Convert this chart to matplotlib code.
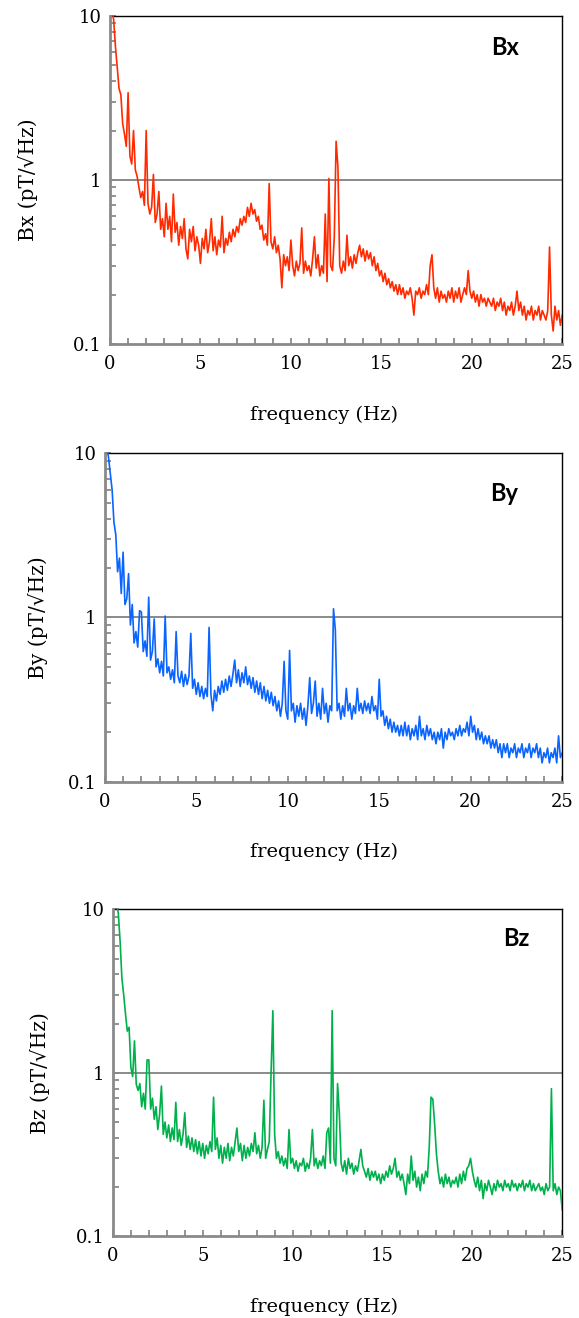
import numpy as np
import matplotlib.pyplot as plt
from matplotlib.ticker import FixedLocator, FuncFormatter, LogLocator, NullFormatter

# frequency grid (Hz), one sample every 0.1 Hz from 0 to 25
freq = np.arange(251) / 10.0

# amplitude spectral density (pT/sqrt(Hz)), one row = 1 Hz
bx = [14, 11, 9.5, 6.5, 4.8, 3.6, 3.3, 2.2, 1.9, 1.6,
      3.4, 1.4, 1.25, 2.0, 1.15, 1.05, 0.9, 0.78, 0.85, 0.7,
      2.0, 0.72, 0.62, 0.68, 1.08, 0.55, 0.62, 0.85, 0.5, 0.58,
      0.45, 0.72, 0.5, 0.6, 0.42, 0.82, 0.48, 0.55, 0.4, 0.52,
      0.44, 0.58, 0.38, 0.33, 0.5, 0.42, 0.52, 0.37, 0.45, 0.4,
      0.31, 0.44, 0.38, 0.5, 0.36, 0.42, 0.58, 0.37, 0.45, 0.35,
      0.43, 0.39, 0.6, 0.36, 0.44, 0.4, 0.48, 0.42, 0.5, 0.45,
      0.52, 0.48, 0.58, 0.53, 0.6, 0.55, 0.68, 0.6, 0.72, 0.62,
      0.66, 0.56, 0.6, 0.5, 0.53, 0.43, 0.47, 0.4, 0.95, 0.42,
      0.38, 0.45, 0.36, 0.4, 0.33, 0.22, 0.35, 0.3, 0.34, 0.28,
      0.43, 0.3, 0.26, 0.32, 0.28, 0.31, 0.51, 0.27, 0.32, 0.28,
      0.3, 0.26, 0.33, 0.45, 0.29, 0.35, 0.26, 0.3, 0.27, 0.62,
      0.24, 1.02, 0.3, 0.28, 0.45, 1.72, 1.2, 0.3, 0.27, 0.32,
      0.28, 0.46, 0.3, 0.34, 0.29, 0.35, 0.31, 0.36, 0.4, 0.34,
      0.38, 0.32, 0.37, 0.33, 0.36, 0.3, 0.34, 0.28, 0.31, 0.26,
      0.28, 0.24, 0.27, 0.23, 0.25, 0.22, 0.24, 0.21, 0.23, 0.2,
      0.23, 0.2, 0.22, 0.19, 0.21, 0.2, 0.22, 0.19, 0.15, 0.21,
      0.2, 0.22, 0.19, 0.21, 0.2, 0.23, 0.2, 0.3, 0.35, 0.22,
      0.19, 0.22, 0.18, 0.21, 0.19, 0.2, 0.18, 0.21, 0.19, 0.22,
      0.18, 0.21, 0.19, 0.22, 0.18, 0.2, 0.22, 0.2, 0.28, 0.21,
      0.19, 0.21, 0.18, 0.2, 0.17, 0.2, 0.18, 0.19, 0.17, 0.19,
      0.18, 0.17, 0.19, 0.16, 0.18, 0.17, 0.19, 0.16, 0.18, 0.15,
      0.17, 0.16, 0.18, 0.15, 0.17, 0.21, 0.16, 0.18, 0.15, 0.17,
      0.14, 0.16, 0.15, 0.17, 0.14, 0.16, 0.15, 0.17, 0.14, 0.16,
      0.15, 0.14, 0.16, 0.39, 0.15, 0.12, 0.17, 0.14, 0.16, 0.13,
      0.15]

by = [13, 11, 9.5, 7.5, 6.0, 3.8, 3.2, 1.9, 2.3, 1.4,
      2.5, 1.2, 1.3, 1.85, 0.9, 1.2, 0.7, 0.82, 0.66, 1.1,
      1.08, 0.62, 0.72, 0.58, 1.33, 0.55, 0.62, 0.98, 0.5, 0.56,
      0.46, 0.54, 0.44, 1.02, 0.46, 0.5, 0.42, 0.48, 0.4, 0.82,
      0.44, 0.4, 0.47, 0.38, 0.45, 0.39, 0.44, 0.8, 0.37, 0.42,
      0.34, 0.4, 0.33, 0.38, 0.32, 0.37, 0.33, 0.87, 0.34, 0.27,
      0.36, 0.31, 0.38, 0.34, 0.41, 0.35, 0.42, 0.36, 0.44, 0.38,
      0.45, 0.55, 0.4, 0.48, 0.38, 0.46, 0.4, 0.5, 0.39, 0.44,
      0.37, 0.43, 0.35, 0.41, 0.34, 0.4, 0.32, 0.38, 0.31, 0.36,
      0.3, 0.35, 0.29, 0.33, 0.27, 0.31, 0.25, 0.3, 0.54, 0.27,
      0.24, 0.63, 0.27, 0.3, 0.23, 0.29, 0.25, 0.3, 0.24, 0.28,
      0.22, 0.29, 0.43, 0.26, 0.3, 0.41, 0.25, 0.3, 0.24, 0.37,
      0.26, 0.3, 0.23, 0.29, 0.27, 1.13, 0.84, 0.27, 0.3, 0.24,
      0.29, 0.25, 0.37, 0.27, 0.3, 0.24, 0.29, 0.26, 0.37, 0.27,
      0.3, 0.26, 0.31, 0.27, 0.3, 0.26, 0.33, 0.27, 0.29, 0.24,
      0.42, 0.25, 0.27, 0.22, 0.25, 0.21, 0.24, 0.2, 0.23, 0.2,
      0.22, 0.19, 0.22, 0.19, 0.23, 0.19, 0.22, 0.18, 0.21, 0.19,
      0.22, 0.18, 0.25, 0.19, 0.21, 0.18, 0.22, 0.19, 0.21, 0.18,
      0.2, 0.17, 0.2, 0.18, 0.21, 0.16, 0.2, 0.18, 0.21, 0.19,
      0.2, 0.18, 0.21, 0.19, 0.22, 0.19, 0.21, 0.2, 0.23, 0.19,
      0.25, 0.2, 0.22, 0.18, 0.21, 0.18, 0.2, 0.17, 0.19, 0.17,
      0.19, 0.16, 0.18, 0.16, 0.18, 0.15, 0.17, 0.14, 0.17, 0.15,
      0.17, 0.14, 0.16, 0.15, 0.17, 0.14, 0.16, 0.15, 0.17, 0.14,
      0.16, 0.15, 0.17, 0.14, 0.16, 0.15, 0.17, 0.14, 0.16, 0.13,
      0.15, 0.14, 0.16, 0.13, 0.15, 0.14, 0.16, 0.13, 0.19, 0.14,
      0.15]

bz = [14, 12, 11, 9.5, 6.4, 3.8, 3.0, 2.3, 1.8, 1.9,
      1.08, 0.95, 1.57, 0.85, 0.78, 0.86, 0.62, 0.75, 0.6, 1.2,
      1.2, 0.6, 0.7, 0.52, 0.62, 0.45, 0.56, 0.83, 0.42, 0.5,
      0.4, 0.48, 0.38, 0.46, 0.39, 0.66, 0.38, 0.45, 0.36, 0.42,
      0.57, 0.35, 0.41, 0.34, 0.4, 0.33, 0.39, 0.32, 0.38, 0.31,
      0.37, 0.3, 0.36, 0.32, 0.38, 0.33, 0.71, 0.34, 0.4, 0.3,
      0.36, 0.28, 0.35, 0.3, 0.37, 0.29, 0.35, 0.31, 0.38, 0.46,
      0.33, 0.37, 0.29, 0.36, 0.3, 0.35, 0.31, 0.37, 0.33, 0.43,
      0.32, 0.36, 0.3, 0.35, 0.68, 0.3, 0.34, 0.38, 1.0, 2.4,
      0.42, 0.3, 0.33, 0.28, 0.31, 0.27, 0.3, 0.26, 0.45, 0.28,
      0.3, 0.26, 0.29, 0.25, 0.28, 0.27, 0.3, 0.25, 0.28, 0.26,
      0.3, 0.45, 0.27, 0.3, 0.26, 0.29, 0.27, 0.31, 0.26, 0.43,
      0.46, 0.28, 2.4, 0.3, 0.27, 0.86, 0.56, 0.28, 0.25, 0.29,
      0.24, 0.3, 0.26, 0.28, 0.24, 0.27, 0.25, 0.29, 0.34, 0.27,
      0.25, 0.23, 0.26, 0.22, 0.25, 0.23, 0.25, 0.22, 0.24, 0.21,
      0.24, 0.22, 0.25, 0.23, 0.27, 0.24, 0.26, 0.3, 0.23, 0.25,
      0.22, 0.24, 0.21, 0.18, 0.24, 0.21, 0.31, 0.22, 0.25, 0.2,
      0.23, 0.19, 0.24, 0.21, 0.25, 0.23, 0.35, 0.71, 0.69, 0.49,
      0.32, 0.25, 0.21, 0.23, 0.2, 0.24, 0.21, 0.23, 0.2, 0.22,
      0.21, 0.23, 0.2, 0.24, 0.21, 0.25, 0.22, 0.26, 0.27, 0.3,
      0.25, 0.22, 0.2, 0.23, 0.19, 0.22, 0.17, 0.21, 0.19, 0.22,
      0.2, 0.18, 0.21, 0.19, 0.22, 0.2, 0.21, 0.19, 0.22, 0.2,
      0.21, 0.19, 0.22, 0.2, 0.21, 0.19, 0.21, 0.2, 0.22, 0.19,
      0.21, 0.2, 0.22, 0.19, 0.21, 0.19, 0.2, 0.21, 0.19, 0.2,
      0.18, 0.21, 0.19, 0.2, 0.8, 0.19, 0.21, 0.18, 0.2, 0.19,
      0.145]

names = ['Bx', 'By', 'Bz']
series = [bx, by, bz]
colors = ['#ff2a00', '#0a64ff', '#00b04c']

# axes rectangles in figure fractions (figure is 579 x 1318 px)
rects = [[0.190, 0.739, 0.781, 0.249],
         [0.181, 0.407, 0.790, 0.249],
         [0.195, 0.062, 0.776, 0.248]]
ylab_x = [-0.181, -0.147, -0.163]
xlab_x = [0.473, 0.479, 0.470]
tag_pos = [(0.874, 0.902), (0.873, 0.878), (0.898, 0.911)]

plt.rcParams['font.family'] = ['DejaVu Serif']
gray = '#8a8a8a'

fig = plt.figure(figsize=(5.79, 13.18), dpi=100)

for i in range(3):
    ax = fig.add_axes(rects[i])
    ax.plot(freq, series[i], color=colors[i], lw=1.2, zorder=3)
    ax.set_yscale('log')
    ax.set_ylim(0.1, 10)
    ax.set_xlim(0, 25)

    ax.axhline(1, color=gray, lw=1.4, zorder=2)

    ax.xaxis.set_major_locator(FixedLocator([0, 5, 10, 15, 20, 25]))
    ax.xaxis.set_minor_locator(FixedLocator(np.arange(26)))
    ax.yaxis.set_major_locator(FixedLocator([0.1, 1, 10]))
    ax.yaxis.set_minor_locator(LogLocator(base=10, subs=np.arange(2, 10)))
    ax.yaxis.set_minor_formatter(NullFormatter())
    ax.yaxis.set_major_formatter(FuncFormatter(lambda v, p: '%g' % v))

    ax.tick_params(which='both', direction='in', color=gray, width=1.3, length=4,
                   labelsize=13, top=False, right=False)
    ax.tick_params(axis='x', pad=8)
    ax.tick_params(axis='y', pad=6)

    for s in ['top', 'right']:
        ax.spines[s].set_color('black')
        ax.spines[s].set_linewidth(1.0)
    for s in ['left', 'bottom']:
        ax.spines[s].set_color(gray)
        ax.spines[s].set_linewidth(2.0)
        ax.spines[s].set_zorder(4)

    ax.set_xlabel('frequency (Hz)', fontsize=14)
    ax.set_ylabel(names[i] + ' (pT/√Hz)', fontsize=14.5)
    ax.xaxis.set_label_coords(xlab_x[i], -0.215)
    ax.xaxis.label.set_va('center')
    ax.yaxis.set_label_coords(ylab_x[i], 0.5)
    ax.yaxis.label.set_va('center')

    ax.text(tag_pos[i][0], tag_pos[i][1], names[i], transform=ax.transAxes,
            ha='center', va='center', fontsize=17, fontweight='bold', family='Lato')

fig.savefig('out.png', dpi=100, facecolor='white')
